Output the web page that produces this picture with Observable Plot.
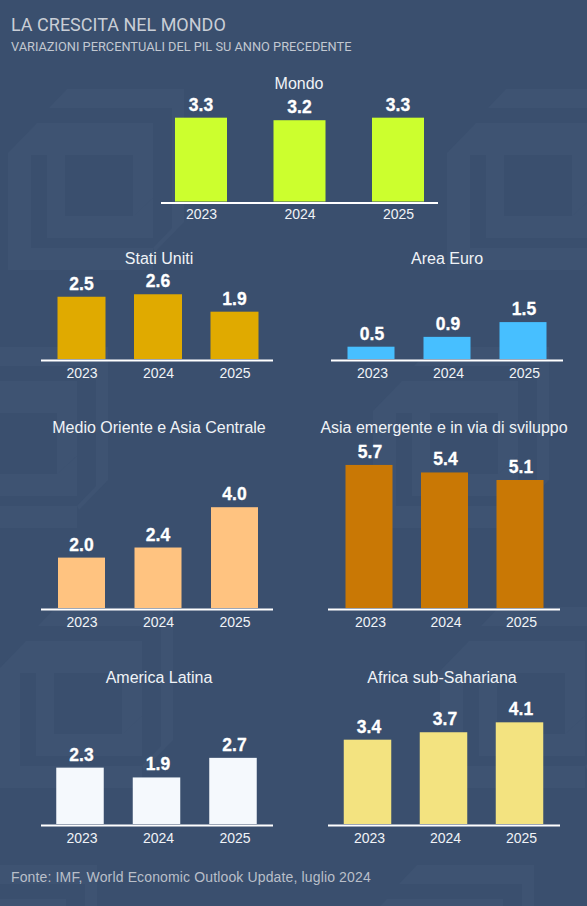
<!DOCTYPE html>
<html lang="it">
<head>
<meta charset="utf-8">
<script src="https://cdn.jsdelivr.net/npm/d3@7"></script>
<script src="https://cdn.jsdelivr.net/npm/@observablehq/plot@0.6"></script>
<style>
  html, body { margin: 0; padding: 0; }
  body { width: 587px; height: 906px; position: relative; overflow: hidden; background: #3a4f6e; font-family: "Liberation Sans", Arial, sans-serif; }
  #bg { position: absolute; left: 0; top: 0; }
  .h { position: absolute; left: 11px; white-space: nowrap; }
  #title { top: 15px; font: 18px/20px Roboto, sans-serif; color: #c9ced6; }
  #subtitle { top: 39px; font: 12.8px/15px Roboto, sans-serif; color: #c2c8d1; }
  #source { top: 869px; font: 14px/16px "Liberation Sans", Arial, sans-serif; color: #b9bfc9; letter-spacing: .14px; }
  .panel { position: absolute; }
  .panel svg { display: block; overflow: visible; background: none; }
</style>
</head>
<body>
<svg id="bg" width="587" height="906" viewBox="0 0 587 906" xmlns="http://www.w3.org/2000/svg">
  <defs>
    <g id="motif" fill="#3e5372">
      <polygon points="49,108 67,89 184,89 184,222 155,252 153,248 172,228 172,108"/>
      <polygon points="8,155 8,153 37,123 153,123 153,198 133,217 133,155"/>
      <polygon points="8,155 31,155 31,248 153,248 153,270 8,270"/>
      <polygon points="47,155 65,155 65,216 133,216 153,198 153,238 47,238"/>
    </g>
  </defs>
  <use href="#motif" x="0" y="0"/>
  <use href="#motif" x="439" y="0"/>
  <use href="#motif" x="-76" y="258"/>
  <use href="#motif" x="365" y="258"/>
  <use href="#motif" x="-11" y="518"/>
  <use href="#motif" x="432" y="518"/>
  <use href="#motif" x="-87" y="776"/>
  <use href="#motif" x="350" y="776"/>
</svg>
<div class="h" id="title">LA CRESCITA NEL MONDO</div>
<div class="h" id="subtitle">VARIAZIONI PERCENTUALI DEL PIL SU ANNO PRECEDENTE</div>
<div class="h" id="source">Fonte: IMF, World Economic Outlook Update, luglio 2024</div>
<script>
const years = ["2023", "2024", "2025"];

const mondo = [3.3, 3.2, 3.3];
const statiUniti = [2.5, 2.6, 1.9];
const areaEuro = [0.5, 0.9, 1.5];
const medioOriente = [2.0, 2.4, 4.0];
const asiaEmergente = [5.7, 5.4, 5.1];
const americaLatina = [2.3, 1.9, 2.7];
const africa = [3.4, 3.7, 4.1];

// Panel layout: axis extent, baseline, title position, pixels per percentage point
const panels = [
  {title: "Mondo", values: mondo, color: "#ccff2e", axis: [161, 438], base: 201, titleY: 82.5, titleX: 299, k: 25.4, first: 201, last: 398, bw: 52, barDx: 0, tickGap: 7},
  {title: "Stati Uniti", values: statiUniti, color: "#e0aa00", axis: [41, 273], base: 359, titleY: 258, titleX: 159, k: 24.9, first: 81.5, last: 234.5, bw: 48, barDx: 0, tickGap: 9},
  {title: "Area Euro", values: areaEuro, color: "#47bfff", axis: [331, 563], base: 359, titleY: 258, titleX: 447, k: 24.6, first: 372, last: 524, bw: 47, barDx: -1, tickGap: 9},
  {title: "Medio Oriente e Asia Centrale", values: medioOriente, color: "#ffc380", axis: [41, 273], base: 608, titleY: 427, titleX: 159, k: 25.2, first: 81.5, last: 234.5, bw: 47, barDx: 0, tickGap: 9},
  {title: "Asia emergente e in via di sviluppo", values: asiaEmergente, color: "#c97805", axis: [328, 560], base: 608, titleY: 427, titleX: 444, k: 25.1, first: 370, last: 521, bw: 47, barDx: -1, tickGap: 9},
  {title: "America Latina", values: americaLatina, color: "#f5f9fd", axis: [41, 273], base: 824, titleY: 677, titleX: 159, k: 24.5, first: 81.5, last: 234.5, bw: 47.5, barDx: -1.5, tickGap: 9},
  {title: "Africa sub-Sahariana", values: africa, color: "#f3e380", axis: [328, 560], base: 824, titleY: 677, titleX: 442, k: 24.8, first: 369, last: 521, bw: 47.5, barDx: -1.5, tickGap: 9}
];

const side = 14, below = 28, above = 12;

for (const p of panels) {
  const rows = years.map((year, i) => ({year, value: p.values[i]}));
  const width = p.axis[1] - p.axis[0] + 2 * side;
  const top = p.titleY - above;
  const height = p.base - top + below;
  const step = (p.last - p.first) / 2;
  const zeroY = height - below;
  const inner = 1 - p.bw / step;
  const chart = Plot.plot({
    width, height,
    marginLeft: side, marginRight: side, marginTop: above, marginBottom: below,
    style: {fontFamily: '"Liberation Sans", Arial, sans-serif', background: "none", overflow: "visible"},
    x: {
      domain: years,
      type: "band",
      range: [p.first - p.axis[0] + side - step / 2, p.last - p.axis[0] + side + step / 2],
      paddingInner: inner, paddingOuter: inner / 2,
      round: false
    },
    y: {domain: [0, 1], range: [zeroY, zeroY - p.k], axis: null},
    marks: [
      Plot.barY(rows, {x: "year", y: "value", fill: p.color, dx: p.barDx}),
      Plot.ruleY([0], {stroke: "#ffffff", strokeWidth: 2, dy: 1}),
      Plot.text(rows, {
        x: "year", y: "value", text: d => d.value.toFixed(1),
        fill: "#ffffff", stroke: "#ffffff", strokeWidth: 0.3,
        fontSize: 17.5, fontWeight: 700, lineAnchor: "bottom", dy: -7.5, dx: -0.5
      }),
      Plot.axisX({
        anchor: "bottom", tickSize: 0, tickPadding: p.tickGap, fontSize: 14,
        color: "#f0f3f7", label: null
      }),
      Plot.text([p.title], {
        frameAnchor: "top", lineAnchor: "middle",
        dx: p.titleX - (p.axis[0] + p.axis[1]) / 2 - 0.5,
        fill: "#f0f3f7", fontSize: 16
      })
    ]
  });
  const box = document.createElement("div");
  box.className = "panel";
  box.style.left = (p.axis[0] - side) + "px";
  box.style.top = top + "px";
  box.appendChild(chart);
  document.body.appendChild(box);
}
</script>
</body>
</html>
